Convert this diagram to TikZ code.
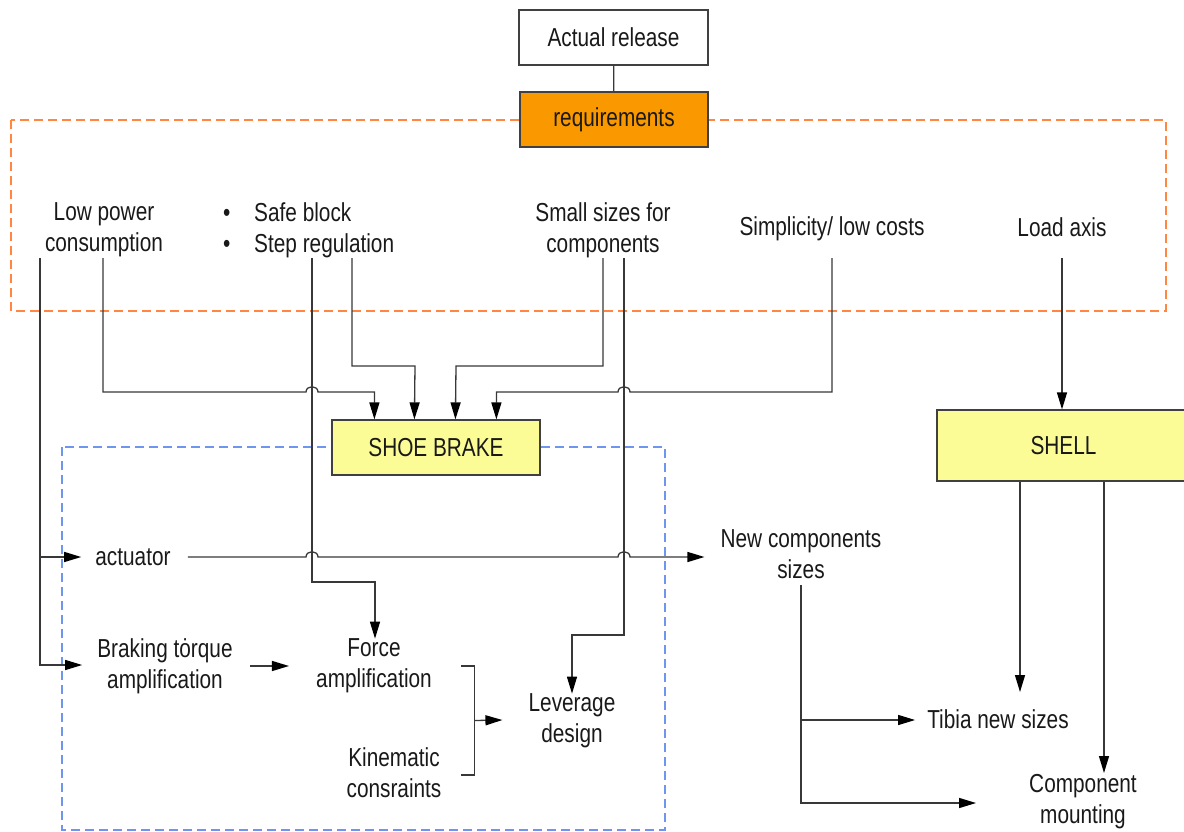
\documentclass[tikz,border=0pt]{standalone}
\usepackage{fontspec}
\setmainfont{Liberation Sans}[FakeStretch=0.8]
\usetikzlibrary{arrows.meta,calc}
\definecolor{reqorange}{RGB}{250,152,0}
\definecolor{blockyellow}{RGB}{252,252,150}
\definecolor{reqdash}{RGB}{255,135,65}
\definecolor{designdash}{RGB}{110,150,240}
\definecolor{ink}{RGB}{25,25,25}
\begin{document}
\begin{tikzpicture}[x=1pt,y=-1pt,
  every node/.style={font=\fontsize{26}{31}\selectfont, text=ink},
  lbl/.style={inner sep=0pt, align=center},
  box/.style={draw=black!75, line width=1.2pt, inner sep=0pt},
  conn/.style={draw=black!78, line width=1.3pt},
  arr/.style={conn, -{Triangle[length=17pt,width=10pt,color=black]}},
  groupbox/.style={line width=1.3pt, dash pattern=on 9pt off 5pt},
]
\useasboundingbox (0,0) rectangle (1184,832);
\clip (0,0) rectangle (1184,832);

% dashed group frames (drawn first, the boxes sit on top)
\draw[groupbox, draw=reqdash] (11,120) rectangle (1166,311);
\draw[groupbox, draw=designdash] (62,447) rectangle (665,830);

% boxes
\node[box, fill=white, minimum width=189pt, minimum height=55pt] (release) at (613.5,37.5) {Actual release};
\node[box, fill=reqorange, minimum width=188pt, minimum height=55pt] (req) at (614,119.5) {requirements};
\node[box, fill=blockyellow, minimum width=208pt, minimum height=55pt] (shoe) at (436,447.5) {SHOE BRAKE};
\node[box, fill=blockyellow, minimum width=253pt, minimum height=71pt] (shell) at (1063.5,445.5) {SHELL};

% requirement labels
\node[lbl] (lowpower) at (104,230) {Low power\\consumption};
\node[lbl, anchor=west, align=left] (safety) at (223,230)
  {\makebox[31pt][l]{\textbullet}Safe block\\\makebox[31pt][l]{\textbullet}Step regulation};
\node[lbl] (smallsizes) at (603,230) {Small sizes for\\components};
\node[lbl] (simplicity) at (832,229) {Simplicity/ low costs};
\node[lbl] (loadaxis) at (1062,227) {Load axis};

% design labels
\node[lbl] (actuator) at (133,557) {actuator};
\node[lbl] (braking) at (165,666) {Braking t\.{o}rque\\amplification};
\node[lbl] (force) at (374,666) {Force\\amplification};
\node[lbl] (kinematic) at (394,773) {Kinematic\\consraints};
\node[lbl] (leverage) at (572,721) {Leverage\\design};
\node[lbl] (newcomp) at (801,554) {New components\\sizes};
\node[lbl] (tibia) at (998,719) {Tibia new sizes};
\node[lbl] (mounting) at (1083,802) {Component\\mounting};

% line starts below the requirement labels
\coordinate (lpA) at (40,258);
\coordinate (lpB) at (103,258);
\coordinate (srA) at (312,258);
\coordinate (srB) at (352,258);
\coordinate (ssA) at (603,258);
\coordinate (ssB) at (624,258);
\coordinate (slA) at (832,258);
\coordinate (laA) at (1062,258);
\coordinate (ncA) at (801,585);
\coordinate (tibiaIn) at (1020,692);
\coordinate (mountIn) at (1104,773);
\coordinate (brTop) at ($(force.east)+(29,0)$);
\coordinate (brBot) at ($(kinematic.east)+(19,2)$);

% top chain
\draw[conn] (release) -- (req);

% inputs of the shoe brake
\draw[arr] (lpB) |- (306,392) .. controls (306,385) and (318,385) .. (318,392)
  -| ($(shoe.north west)+(43,0)$);
\draw[arr] (srB) |- (415,366) -- ($(shoe.north west)+(83,0)$);
\draw[arr] (ssA) |- (456,366) -- ($(shoe.north west)+(124,0)$);
\draw[arr] (slA) |- (630,392) .. controls (630,385) and (618,385) .. (618,392)
  -| ($(shoe.north west)+(165,0)$);

% input of the shell
\draw[arr] (laA) -- (laA |- shell.north);

% low power consumption feeds
\draw[arr] (lpA) |- ($(braking.west)+(-15,-1)$);
\draw[arr] (lpA |- actuator.west) -- ($(actuator.west)+(-14,0)$);

% step regulation to force amplification
\draw[arr] (srA) -- (312,582) -| ($(force.north)+(1,0)$);

% small sizes to leverage design
\draw[arr] (ssB) -- (624,635) -| (leverage.north);

% actuator to new component sizes, hopping over two lines
\draw[arr] ($(actuator.east)+(17,0)$) -- (306,557)
  .. controls (306,550) and (318,550) .. (318,557) -- (618,557)
  .. controls (618,550) and (630,550) .. (630,557)
  -- ($(newcomp.west |- actuator.east)+(-16,0)$);

% torque to force
\draw[arr] ($(braking.east)+(17,0)$) -- ($(force.west)+(-27,0)$);

% bracket joining force and kinematics into leverage design
\draw[conn] (brTop) -| ($(brBot)+(14,0)$) -- (brBot);
\draw[arr] ($(brTop)!0.5!(brBot)+(14,0)$) -- ($(leverage.west)+(-26,-1)$);

% new component sizes outputs
\draw[arr] (ncA) |- ($(tibia.west)+(-12,1)$);
\draw[arr] (ncA) |- ($(mounting.west)+(-53,1)$);

% shell outputs
\draw[arr] (shell.south -| tibiaIn) -- (tibiaIn);
\draw[arr] (shell.south -| mountIn) -- (mountIn);
\end{tikzpicture}
\end{document}
